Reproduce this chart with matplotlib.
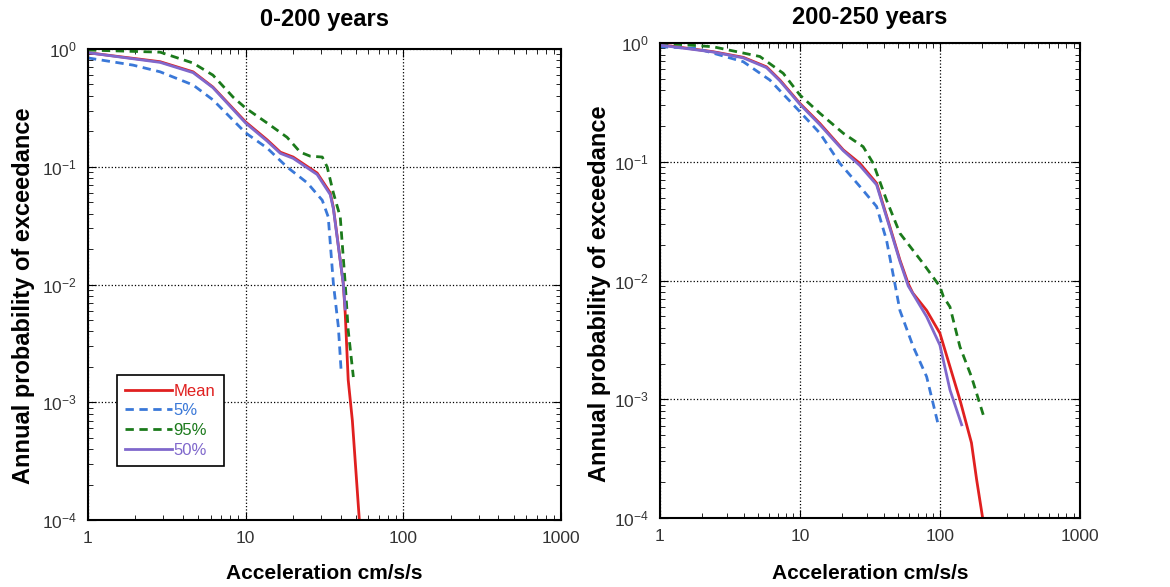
import numpy as np
import matplotlib.pyplot as plt
from matplotlib.ticker import LogLocator, NullFormatter, FixedLocator, FixedFormatter

plt.rcParams['font.family'] = ['Liberation Sans', 'DejaVu Sans']

# 0-200 years
a_mean_1 = [1.0, 2.87, 4.64, 6.2, 10, 13.7, 16.6, 20, 28.4, 34.4, 36, 41.6, 42.8, 44.7, 47.5, 52.6]
p_mean_1 = [0.93, 0.78, 0.64, 0.475, 0.24, 0.169, 0.133, 0.121, 0.0885, 0.06, 0.045, 0.0102, 0.0057, 0.00155, 7e-4, 1e-4]
a_p05_1 = [1.0, 1.93, 2.87, 4.64, 6.2, 10, 13.7, 18.3, 24.6, 30.6, 33.4, 36, 38.7, 40.4]
p_p05_1 = [0.84, 0.73, 0.64, 0.495, 0.37, 0.194, 0.144, 0.0995, 0.073, 0.052, 0.0375, 0.0102, 0.0044, 0.00177]
a_p95_1 = [1.0, 2.87, 4.64, 6.2, 8.33, 10, 13.7, 18.3, 22.2, 25.7, 30.6, 32.9, 36, 39.8, 42.8, 44.7, 48.2]
p_p95_1 = [0.98, 0.94, 0.76, 0.6, 0.39, 0.315, 0.235, 0.178, 0.133, 0.123, 0.121, 0.0995, 0.06, 0.0375, 0.0102, 0.0041, 0.00164]
a_p50_1 = [1.0, 2.87, 4.64, 6.2, 10, 13.7, 16.6, 20, 28.4, 34.4, 36, 41.6, 42.8]
p_p50_1 = [0.93, 0.77, 0.63, 0.47, 0.235, 0.165, 0.13, 0.118, 0.086, 0.058, 0.044, 0.0102, 0.0062]

# 200-250 years
a_mean_2 = [1.0, 2.4, 3.94, 5.78, 7.2, 10, 13.9, 20.4, 26.8, 35.3, 44, 51.8, 59.4, 64, 80.4, 100, 139, 168, 183, 202]
p_mean_2 = [0.97, 0.845, 0.758, 0.63, 0.488, 0.31, 0.21, 0.126, 0.097, 0.066, 0.0282, 0.0149, 0.0094, 0.00785, 0.0056, 0.0036, 0.00099, 4.3e-4, 2.1e-4, 1e-4]
a_p05_2 = [1.0, 1.83, 3.94, 6.1, 10, 13.9, 19.3, 26.8, 35.3, 41.6, 47.7, 51.8, 64.5, 80.4, 97.3]
p_p05_2 = [0.93, 0.90, 0.696, 0.488, 0.264, 0.174, 0.097, 0.062, 0.042, 0.0218, 0.0094, 0.0056, 0.00277, 0.00155, 6.1e-4]
a_p95_2 = [1.0, 2.4, 5.18, 7.6, 10, 13.9, 20.4, 28.3, 33.4, 41.6, 51.8, 76, 100, 106, 118, 139, 168, 204]
p_p95_2 = [1.0, 0.93, 0.77, 0.556, 0.365, 0.256, 0.174, 0.134, 0.097, 0.0475, 0.025, 0.0139, 0.0089, 0.0073, 0.006, 0.00277, 0.00155, 7.4e-4]
a_p50_2 = [1.0, 2.4, 3.94, 5.78, 7.2, 10, 13.9, 20.4, 26.8, 35.3, 44, 51.8, 59.4, 80.4, 100, 118, 143]
p_p50_2 = [0.96, 0.84, 0.75, 0.62, 0.48, 0.305, 0.205, 0.124, 0.093, 0.064, 0.0275, 0.0145, 0.009, 0.00496, 0.00286, 0.0012, 6.1e-4]

titles = ['0-200 years', '200-250 years']
labels = ['Mean', '5%', '95%', '50%']
colors = ['#e02020', '#3a78d8', '#1b7a1b', '#8068cc']
styles = ['-', '--', '--', '-']

panels = [
    [(a_mean_1, p_mean_1), (a_p05_1, p_p05_1), (a_p95_1, p_p95_1), (a_p50_1, p_p50_1)],
    [(a_mean_2, p_mean_2), (a_p05_2, p_p05_2), (a_p95_2, p_p95_2), (a_p50_2, p_p50_2)],
]
positions = [[0.0752, 0.114, 0.4043, 0.8025], [0.564, 0.1175, 0.359, 0.8092]]
title_y = [1.0616, 1.0547]
ylab_xy = [(-0.137, 0.476), (-0.143, 0.473)]
xlab_y = [-0.1125, -0.116]

fig = plt.figure(figsize=(11.7, 5.87), dpi=100)

for k in range(2):
    ax = fig.add_axes(positions[k])
    for (xs, ys), lab, col, ls in zip(panels[k], labels, colors, styles):
        ax.plot(xs, ys, ls, color=col, lw=2, label=lab, dashes=(3, 2) if ls == '--' else (None, None))
    ax.set_xscale('log')
    ax.set_yscale('log')
    ax.set_xlim(1, 1000)
    ax.set_ylim(1e-4, 1)
    ax.xaxis.set_major_locator(FixedLocator([1, 10, 100, 1000]))
    ax.xaxis.set_major_formatter(FixedFormatter(['1', '10', '100', '1000']))
    ax.xaxis.set_minor_locator(LogLocator(base=10, subs=np.arange(2, 10)))
    ax.xaxis.set_minor_formatter(NullFormatter())
    ax.yaxis.set_minor_locator(LogLocator(base=10, subs=np.arange(2, 10)))
    ax.yaxis.set_minor_formatter(NullFormatter())
    ax.grid(True, which='major', color='black', linestyle=':', linewidth=0.9)
    ax.tick_params(which='both', direction='in', top=True, right=True, labelsize=12.5,
                   labelcolor='#333333', pad=8)
    ax.tick_params(which='major', length=6)
    ax.tick_params(which='minor', length=3.5)
    for s in ax.spines.values():
        s.set_linewidth(1.5)
    ax.text(0.5, title_y[k], titles[k], transform=ax.transAxes, ha='center', va='center',
            fontsize=17, fontweight='bold')
    ax.set_xlabel('Acceleration cm/s/s', fontsize=15, fontweight='bold')
    ax.set_ylabel('Annual probability of exceedance', fontsize=17, fontweight='bold')
    ax.xaxis.set_label_coords(0.5, xlab_y[k])
    ax.yaxis.set_label_coords(*ylab_xy[k])
    ax.xaxis.label.set_va('center')
    ax.yaxis.label.set_va('center')
    if k == 0:
        leg = ax.legend(loc='lower left', bbox_to_anchor=(0.061, 0.115), borderaxespad=0,
                        fontsize=12, handlelength=2.8, handletextpad=0.1, labelspacing=0.28,
                        fancybox=False, framealpha=1, edgecolor='black', borderpad=0.5)
        leg.get_frame().set_linewidth(1.2)
        for t, col in zip(leg.get_texts(), colors):
            t.set_color(col)

fig.savefig('out.png', dpi=100)
